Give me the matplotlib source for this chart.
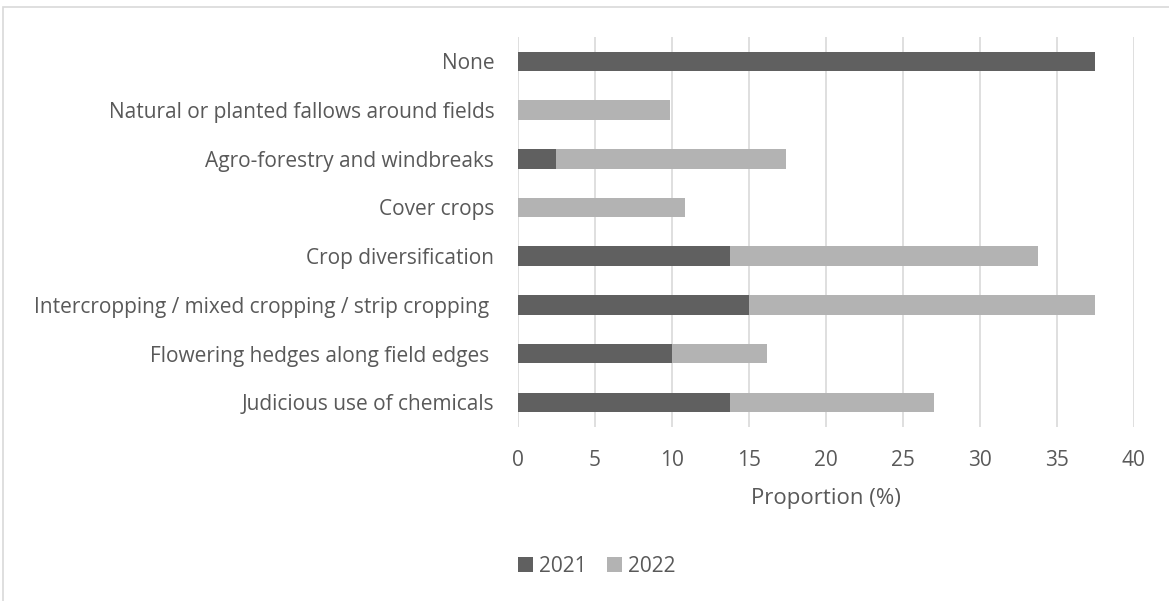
import numpy as np
import matplotlib.pyplot as plt
from matplotlib.patches import Rectangle

# practices, top to bottom
practices = [
    'None',
    'Natural or planted fallows around fields',
    'Agro-forestry and windbreaks',
    'Cover crops',
    'Crop diversification',
    'Intercropping / mixed cropping / strip cropping ',
    'Flowering hedges along field edges ',
    'Judicious use of chemicals',
]
share_2021 = [37.5, 0, 2.5, 0, 13.75, 15.0, 10.0, 13.75]
share_2022 = [0, 9.85, 14.9, 10.85, 20.05, 22.5, 6.2, 13.25]

dark = '#606060'
light = '#b3b3b3'
text_col = '#595959'

plt.rcParams['font.family'] = ['Open Sans', 'DejaVu Sans']

fig = plt.figure(figsize=(11.69, 6.01), dpi=100)
ax = fig.add_axes([0.4431, 0.2902, 0.5269, 0.6482])

y = np.arange(len(practices))
ax.barh(y, share_2021, height=0.4, color=dark, label='2021', zorder=3)
ax.barh(y, share_2022, left=share_2021, height=0.4, color=light, label='2022', zorder=3)

ax.set_xlim(0, 40)
ax.set_ylim(len(practices) - 0.5, -0.5)
ax.set_xticks(range(0, 41, 5))
ax.set_yticks(y)
ax.set_yticklabels(practices)
ax.grid(axis='x', color='#d9d9d9', linewidth=1.2, zorder=0)
for s in ax.spines.values():
    s.set_visible(False)
ax.tick_params(axis='x', length=0, labelsize=15, labelcolor=text_col, pad=17)
ax.tick_params(axis='y', length=0, labelsize=15, labelcolor=text_col, pad=17)
ax.set_xlabel('Proportion (%)', fontsize=16, color=text_col, labelpad=12)

ax.legend(loc='center', bbox_to_anchor=(597 / 1169, 1 - 566 / 601),
          bbox_transform=fig.transFigure, ncol=2, frameon=False, fontsize=15,
          handlelength=0.7, handleheight=0.7, handletextpad=0.3, columnspacing=1.0,
          labelcolor=text_col)

# thin frame round the chart area
fig.patches.append(Rectangle((3 / 1169, -0.01), 1.2, 1 - 7 / 601 + 0.01, transform=fig.transFigure,
                             fill=False, edgecolor='#d9d9d9', linewidth=1.2))

fig.savefig('out.png', dpi=100)
